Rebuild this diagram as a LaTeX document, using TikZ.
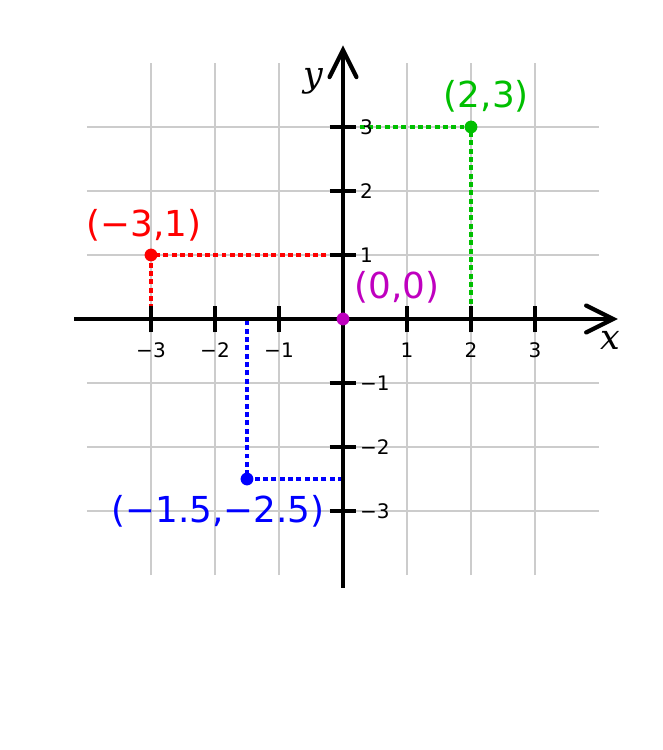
\documentclass[tikz,border=0pt]{standalone}
\usepackage{fontspec}
\setmainfont{DejaVu Sans}
\newfontfamily\axisfont{DejaVu Serif}
\definecolor{ptgreen}{RGB}{0,191,0}
\definecolor{ptmag}{RGB}{191,0,191}
\definecolor{gridgray}{RGB}{204,204,204}
\begin{document}
\begin{tikzpicture}[x=1cm,y=1cm,
  gridline/.style={draw=gridgray,line width=0.7pt},
  axisline/.style={draw=black,line width=1.9pt},
  tickline/.style={draw=black,line width=1.8pt},
  ticklab/.style={font=\fontsize{8.9}{10}\selectfont,inner sep=0pt},
  ptlab/.style={font=\fontsize{15.9}{18}\selectfont,inner sep=0pt},
  axlab/.style={font=\axisfont\itshape\fontsize{15.5}{18}\selectfont,inner sep=0pt},
  guide/.style={line width=1.4pt,dash pattern=on 2.2pt off 1.5pt},
  dot/.style={circle,inner sep=0pt,minimum size=0.2cm}]
\useasboundingbox (-5.359,-6.734) rectangle (4.984,4.984);
% grid
\foreach \i in {-3,-2,-1,1,2,3}{
  \draw[gridline] (\i,-4) -- (\i,4);
  \draw[gridline] (-4,\i) -- (4,\i);
}
% guide lines
\coordinate (g1) at (0,3); \coordinate (g2) at (2,0);
\coordinate (r1) at (0,1); \coordinate (r2) at (-3,0);
\coordinate (b1) at (0,-2.5); \coordinate (b2) at (-1.5,0);
\draw[guide,ptgreen] (g1) -- (2,3) -- (g2);
\draw[guide,red] (r1) -- (-3,1) -- (r2);
\draw[guide,blue] (b1) -- (-1.5,-2.5) -- (b2);
% axes
\coordinate (xl) at (-4.2,0); \coordinate (xr) at (4.22,0);
\coordinate (yb) at (0,-4.2); \coordinate (yt) at (0,4.2);
\draw[axisline] (xl) -- (xr);
\draw[axisline] (yb) -- (yt);
\draw[axisline,line cap=round,line join=miter] (3.8,0.21) -- (xr) -- (3.8,-0.21);
\draw[axisline,line cap=round,line join=miter] (-0.21,3.78) -- (yt) -- (0.21,3.78);
% ticks
\foreach \i in {-3,-2,-1,1,2,3}{
  \draw[tickline] (\i,-0.21) -- (\i,0.21);
  \draw[tickline] (-0.21,\i) -- (0.21,\i);
  \node[ticklab] (tx\i) at (\i,-0.485) {\ifnum\i<0 −\the\numexpr-\i\relax\else\i\fi};
  \node[ticklab,anchor=west] (ty\i) at (0.26,\i) {\ifnum\i<0 −\the\numexpr-\i\relax\else\i\fi};
}
\node[axlab] (xlab) at (4.17,-0.33) {x};
\node[axlab] (ylab) at (-0.47,3.72) {y};
% points
\node[dot,fill=ptgreen] (pg) at (2,3) {};
\node[dot,fill=red] (pr) at (-3,1) {};
\node[dot,fill=blue] (pb) at (-1.5,-2.5) {};
\node[dot,fill=ptmag] (po) at (0,0) {};
\node[ptlab,text=ptgreen] (lg) at (2.24,3.48) {(2,3)};
\node[ptlab,text=red] (lr) at (-3.11,1.47) {(−3,1)};
\node[ptlab,text=ptmag] (lo) at (0.84,0.49) {(0,0)};
\node[ptlab,text=blue] (lb) at (-1.95,-3.0) {(−1.5,−2.5)};
\end{tikzpicture}
\end{document}
